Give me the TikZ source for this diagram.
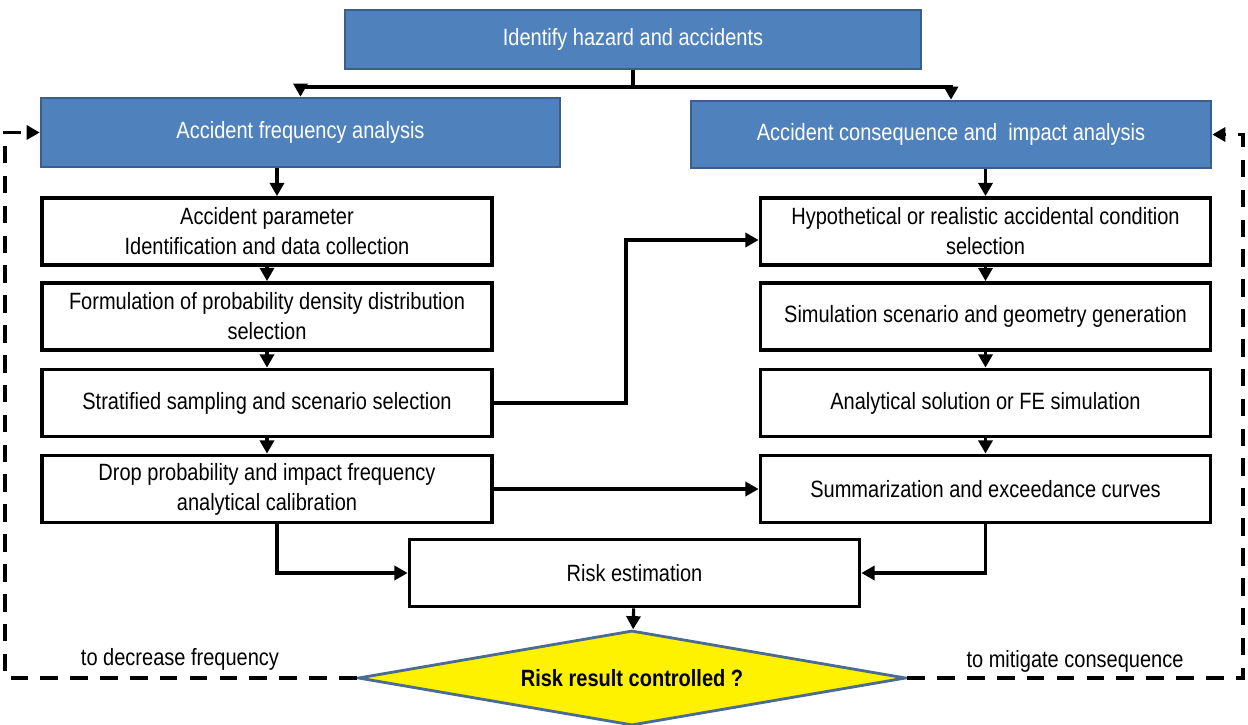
\documentclass[tikz,border=0pt]{standalone}
\usepackage{fontspec}
\setmainfont{Liberation Sans}[FakeStretch=0.85]
\usepackage{tikz}
\usetikzlibrary{arrows.meta,positioning,shapes.geometric,calc}
\definecolor{hdrFill}{HTML}{4F81BD}
\definecolor{hdrEdge}{HTML}{3B5E8C}
\definecolor{diaEdge}{HTML}{4A6B93}

\begin{document}
\begin{tikzpicture}[x=0.02cm, y=-0.02cm,
    every node/.style={font=\fontsize{13.4}{17}\selectfont, align=center, inner sep=0pt},
    hdr/.style={draw=hdrEdge, line width=1.5pt, fill=hdrFill, text=white},
    stage/.style={draw=black, line width=2.2pt, fill=white, minimum width=9cm, minimum height=1.34cm},
    dia/.style={diamond, shape aspect=5.7, draw=diaEdge, line width=1.6pt, fill=yellow, minimum width=10.96cm, minimum height=1.9cm},
    arr/.style={line width=1.8pt, -{Triangle[length=7.5pt,width=8pt]}},
    back/.style={line width=2.2pt, dash pattern=on 10pt off 7pt, -{Triangle[length=7.5pt,width=8pt]}}]
  \useasboundingbox (0,0) rectangle (1248,724);
  % Blue headers
  \node[hdr, minimum width=11.52cm, minimum height=1.18cm] (hazard) at (633,39.5) {Identify hazard and accidents};
  \node[hdr, minimum width=10.38cm, minimum height=1.38cm] (freq) at (300.5,132.5) {Accident frequency analysis};
  \node[hdr, minimum width=10.4cm, minimum height=1.34cm] (cons) at (951,134.5) {Accident consequence and\ \ impact analysis};
  % Frequency branch
  \node[stage] (par) at (267,231.5) {Accident parameter\\Identification and data collection};
  \node[stage] (pdf) at (267,316.5) {Formulation of probability density distribution\\selection};
  \node[stage] (samp) at (267,403) {Stratified sampling and scenario selection};
  \node[stage] (drop) at (267,489) {Drop probability and impact frequency\\analytical calibration};
  % Consequence branch
  \node[stage] (cond) at (985.5,231.5) {Hypothetical or realistic accidental condition\\selection};
  \node[stage] (geom) at (985.5,316.5) {Simulation scenario and geometry generation};
  \node[stage] (fesim) at (985.5,403) {Analytical solution or FE simulation};
  \node[stage] (curve) at (985.5,489) {Summarization and exceedance curves};
  % Risk estimation and decision
  \node[stage] (risk) at (634.5,573) {Risk estimation};
  \node[dia] (check) at (632,678) {\textbf{Risk result controlled ?}};
  % Helper coordinates
  \coordinate (fork) at (633,87);
  \coordinate (lcol) at (277,0);
  \coordinate (jog) at (626,240);
  \coordinate (lft) at (5,0);
  \coordinate (rgt) at (1243,0);
  % Forward flow
  \draw[line width=1.8pt] (hazard.south) -- (fork);
  \draw[arr] (fork) -| (freq.north);
  \draw[arr] (fork) -| (cons.north);
  \draw[arr] (freq.south -| lcol) -- (par.north -| lcol);
  \draw[arr] (par) -- (pdf);
  \draw[arr] (pdf) -- (samp);
  \draw[arr] (samp) -- (drop);
  \draw[arr] (cons.south -| cond.north) -- (cond.north);
  \draw[arr] (cond) -- (geom);
  \draw[arr] (geom) -- (fesim);
  \draw[arr] (fesim) -- (curve);
  \draw[arr] (samp.east) -| (jog) -- (jog -| cond.west);
  \draw[arr] (drop.east) -- (curve.west);
  \draw[arr] (drop.south -| lcol) |- (risk.west);
  \draw[arr] (curve.south) |- (risk.east);
  \draw[arr] (risk) -- (check);
  % Feedback loops
  \draw[back] (check.west) -- (check.west -| lft) |- (freq.west);
  \draw[back] (check.east) -- (check.east -| rgt) |- (cons.east);
  \node (decr) at (180,659) {to decrease frequency};
  \node (miti) at (1075,661) {to mitigate consequence};
\end{tikzpicture}
\end{document}
